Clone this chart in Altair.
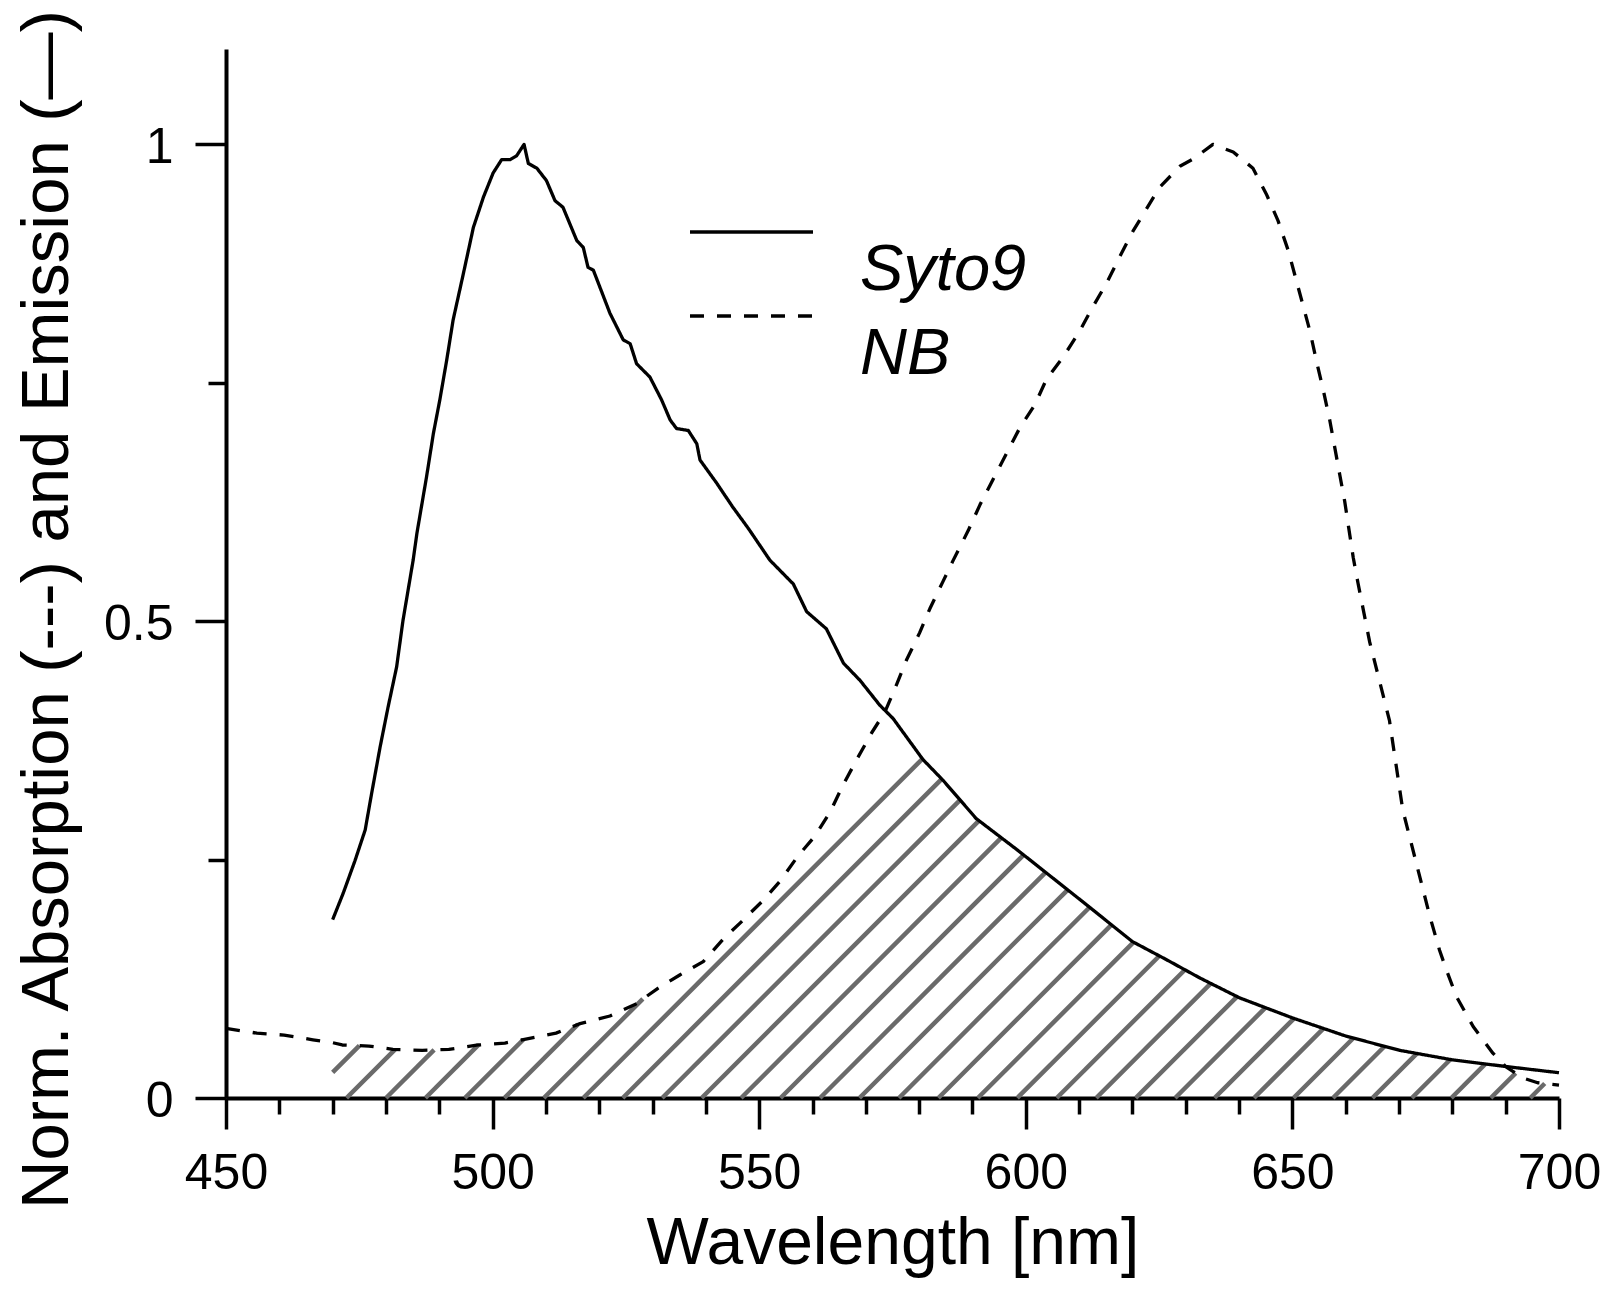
import altair as alt
import numpy as np
import pandas as pd

# ---------------- data ----------------
syto9_wl = [470.0, 472.0, 474.2, 476.1, 477.3, 478.9, 480.4, 482.0, 483.2, 485.1,
            485.8, 487.6, 488.9, 490.1, 491.4, 492.6, 494.5, 496.4, 498.3, 500.1,
            501.7, 503.3, 504.5, 505.9, 506.7, 508.3, 510.1, 511.7, 513.2, 515.8,
            517.0, 517.9, 518.9, 522.0, 524.5, 525.8, 527.0, 529.5, 531.7, 533.3,
            534.5, 536.7, 538.3, 538.9, 542.0, 545.0, 548.0, 552.0, 556.4, 558.9,
            562.6, 565.8, 568.9, 572.6, 575.1, 580.7, 584.5, 590.7, 598.2, 600.7,
            610.4, 620.0, 626.4, 632.6, 640.1, 650.0, 660.0, 670.1, 680.0, 690.1,
            700.0]
syto9_em = [0.187, 0.215, 0.249, 0.281, 0.319, 0.368, 0.410, 0.452, 0.501, 0.564,
            0.592, 0.651, 0.697, 0.732, 0.774, 0.816, 0.864, 0.913, 0.945, 0.970,
            0.984, 0.984, 0.988, 1.000, 0.980, 0.975, 0.962, 0.941, 0.934, 0.899,
            0.892, 0.871, 0.868, 0.823, 0.795, 0.791, 0.770, 0.756, 0.732, 0.711,
            0.702, 0.700, 0.686, 0.669, 0.645, 0.620, 0.597, 0.564, 0.539, 0.510,
            0.492, 0.456, 0.438, 0.412, 0.398, 0.355, 0.333, 0.293, 0.261, 0.250,
            0.207, 0.164, 0.145, 0.126, 0.105, 0.084, 0.065, 0.050, 0.040, 0.033,
            0.0265]

nb_wl = [450.0, 455.8, 460.9, 466.3, 470.0, 471.8, 476.8, 481.3, 486.8, 491.8,
         497.3, 502.3, 507.4, 511.9, 516.4, 522.0, 526.7, 531.0, 535.1, 539.5,
         543.3, 546.7, 550.7, 554.0, 557.3, 560.5, 563.3, 565.8, 568.3, 571.1,
         573.6, 575.8, 577.6, 580.1, 582.0, 584.5, 586.4, 589.2, 591.4, 593.9,
         596.4, 598.9, 601.7, 603.9, 607.0, 610.1, 612.3, 615.1, 617.6, 620.1,
         622.6, 625.1, 628.9, 631.5, 635.1, 638.9, 642.6, 645.1, 647.3, 649.2,
         650.7, 652.0, 653.3, 654.5, 655.8, 657.0, 658.9, 659.8, 661.4, 662.3,
         664.5, 668.2, 670.7, 675.8, 677.6, 678.9, 680.8, 683.9, 687.6, 690.0,
         693.2, 696.0, 700.0]
nb_abs = [0.073, 0.068, 0.066, 0.061, 0.058, 0.0556, 0.0545, 0.051, 0.050, 0.051,
          0.0556, 0.0576, 0.063, 0.068, 0.078, 0.086, 0.098, 0.115, 0.129, 0.143,
          0.167, 0.185, 0.207, 0.228, 0.254, 0.275, 0.300, 0.329, 0.355, 0.383,
          0.405, 0.434, 0.459, 0.488, 0.513, 0.542, 0.564, 0.595, 0.622, 0.649,
          0.676, 0.703, 0.727, 0.754, 0.777, 0.804, 0.827, 0.854, 0.882, 0.909,
          0.932, 0.955, 0.977, 0.985, 1.000, 0.992, 0.975, 0.948, 0.920, 0.889,
          0.858, 0.831, 0.804, 0.773, 0.742, 0.711, 0.653, 0.626, 0.567, 0.540,
          0.478, 0.396, 0.302, 0.190, 0.155, 0.134, 0.106, 0.075, 0.047, 0.033,
          0.021, 0.016, 0.0136]

series_names = ["Syto9", "NB"]
x_tick_values = list(range(450, 701, 10))
y_tick_values = [0, 0.25, 0.5, 0.75, 1.0]
x_title = "Wavelength [nm]"
y_title = "Norm. Absorption (---) and Emission (\u2014)"

# overlap (hatched) region limits and hatch geometry
overlap_start, overlap_end = 470.0, 700.0
hatch_spacing_nm = 7.4
hatch_phase_nm = 472.6

# ---------------- layout ----------------
W, H = 1333, 1049
X_DOM = [450, 700]
Y_DOM = [0, 1.1]
FONT = "Liberation Sans"

# ---------------- tables ----------------
lines_df = pd.concat([
    pd.DataFrame({"wl": syto9_wl, "v": syto9_em, "series": series_names[0]}),
    pd.DataFrame({"wl": nb_wl, "v": nb_abs, "series": series_names[1]}),
], ignore_index=True)

# hatch segments at 45 degrees on screen inside 0 <= y <= min(emission, absorption)
slope = (W / (X_DOM[1] - X_DOM[0])) / (H / (Y_DOM[1] - Y_DOM[0]))
grid = np.linspace(overlap_start, overlap_end, 9201)
top = np.minimum(np.interp(grid, syto9_wl, syto9_em), np.interp(grid, nb_wl, nb_abs))
segs = []
k0 = int(np.floor((overlap_start - 0.2 / slope - hatch_phase_nm) / hatch_spacing_nm))
k1 = int(np.ceil((overlap_end - hatch_phase_nm) / hatch_spacing_nm))
for k in range(k0, k1 + 1):
    l0 = hatch_phase_nm + k * hatch_spacing_nm
    if l0 >= overlap_end:
        break
    if l0 >= overlap_start:
        xs, ys = l0, 0.0
    else:
        xs, ys = overlap_start, (overlap_start - l0) * slope
    if ys >= np.interp(xs, grid, top):
        continue
    m = grid >= xs
    g, tt = grid[m], top[m]
    ly = (g - l0) * slope
    hit = np.nonzero(ly >= tt)[0]
    xe = float(g[hit[0]]) if len(hit) else overlap_end
    ye = (xe - l0) * slope
    segs.append({"x": xs, "y": ys, "x2": xe, "y2": ye})
hatch_df = pd.DataFrame(segs)

# ---------------- scales & axes ----------------
x_scale = alt.Scale(domain=X_DOM, nice=False, zero=False)
y_scale = alt.Scale(domain=Y_DOM, nice=False, zero=False)

x_axis = alt.Axis(
    values=x_tick_values,
    labelExpr="datum.value % 50 === 0 ? datum.label : ''",
    tickSize={"condition": {"test": "datum.value % 50 === 0", "value": 31}, "value": 16},
    labelPadding=19, labelFlush=False, labelOverlap=False, labelBound=False,
    titleY=165, titleBaseline="alphabetic", titleFontSize=66,
)
y_axis = alt.Axis(
    values=y_tick_values, format="~g",
    labelExpr="datum.value % 0.5 === 0 ? datum.label : ''",
    tickSize={"condition": {"test": "datum.value % 0.5 === 0", "value": 31}, "value": 18},
    labelPadding=22, labelOffset=3, labelOverlap=False, labelFlush=False, labelBound=False,
    titleX=-159, titleY=560, titleBaseline="alphabetic", titleAngle=270,
    titleFontSize=67,
)

hatch = alt.Chart(hatch_df).mark_rule(color="#6a6a6a", strokeWidth=4.5).encode(
    x=alt.X("x:Q", scale=x_scale, axis=x_axis, title=x_title),
    y=alt.Y("y:Q", scale=y_scale, axis=y_axis, title=y_title),
    x2="x2:Q",
    y2="y2:Q",
)

lines = alt.Chart(lines_df).mark_line(
    color="black", strokeWidth=3.3, strokeJoin="round"
).encode(
    x=alt.X("wl:Q", scale=x_scale, axis=x_axis, title=x_title),
    y=alt.Y("v:Q", scale=y_scale, axis=y_axis, title=y_title),
    strokeDash=alt.StrokeDash(
        "series:N",
        scale=alt.Scale(domain=series_names, range=[[1, 0], [14, 13]]),
        legend=alt.Legend(
            title=None, orient="none", legendX=493, legendY=188,
            symbolType="M-4,-2.44H4", symbolSize=945.6, symbolStrokeWidth=3.5,
            symbolStrokeColor="black",
            labelFont=FONT, labelFontSize=65, labelFontStyle="italic",
            labelColor="black", labelBaseline="middle", labelOffset=76,
            labelLimit=0, rowPadding=5, padding=0,
        ),
    ),
)

chart = alt.layer(hatch, lines).properties(
    width=W, height=H,
    autosize=alt.AutoSizeParams(type="none"),
    padding={"left": 218, "top": 41, "right": 48, "bottom": 180},
    background="white",
).configure_view(stroke=None).configure_axis(
    grid=False, domainColor="black", domainWidth=4, tickColor="black", tickWidth=3.5,
    labelFont=FONT, labelFontSize=50, labelColor="black",
    titleFont=FONT, titleFontSize=65, titleFontWeight="normal", titleColor="black",
)

chart.save("out.html", embed_options={"renderer": "svg", "actions": False})
